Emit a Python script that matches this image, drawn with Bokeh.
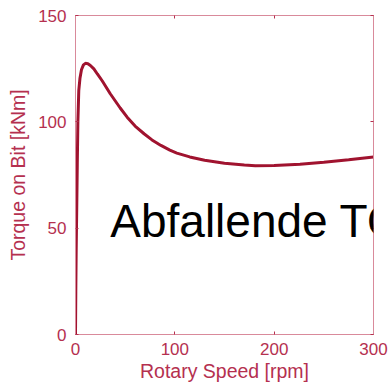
from bokeh.plotting import figure
from bokeh.models import Range1d, LinearAxis, Label, FixedTicker
from bokeh.embed import file_html
from bokeh.resources import INLINE

rpm = [0, 0.3, 0.7, 1.2, 1.8, 2.4, 3.3, 4.5, 6, 8, 10, 12.5, 15, 18.5, 22, 27,
       35, 45, 52, 60, 69, 77, 86, 95, 102, 115, 130, 150, 170, 181, 200, 226,
       250, 275, 300]
torque = [0, 20, 40, 58, 80, 100, 114.7, 120.5, 124.5, 126.8, 127.5, 127.3,
          126.5, 124.9, 122.5, 119.2, 113.2, 106.5, 102.2, 98, 94.4, 91.5, 88.9,
          86.7, 85.3, 83.5, 81.9, 80.5, 79.7, 79.4, 79.5, 80.0, 81.0, 82.2, 83.5]
x_ticks = [0, 100, 200, 300]
y_ticks = [0, 50, 100, 150]
annotation = "Abfallende TOB"

axis_col = "#b5304f"
line_col = "#a0132f"
frame_col = "#d98a9b"
font = "Liberation Sans"

p = figure(width=390, height=388, output_backend="svg", toolbar_location=None,
           x_range=Range1d(0, 300), y_range=Range1d(0, 150),
           min_border_left=75, min_border_right=17, min_border_top=15,
           min_border_bottom=54, x_axis_label="Rotary Speed [rpm]",
           y_axis_label="Torque on Bit [kNm]")
p.grid.visible = False
p.outline_line_color = frame_col
p.outline_line_width = 1
p.background_fill_color = "white"
p.border_fill_color = "white"

p.add_layout(LinearAxis(), "right")
p.add_layout(LinearAxis(), "above")

for ax in p.xaxis + p.yaxis:
    ax.axis_line_color = frame_col
    ax.major_tick_line_color = axis_col
    ax.major_tick_in = 3
    ax.major_tick_out = 0
    ax.minor_tick_line_color = None
    ax.major_label_text_color = axis_col
    ax.major_label_text_font = font
    ax.major_label_text_font_size = "17px"
    ax.axis_label_text_color = axis_col
    ax.axis_label_text_font = font
    ax.axis_label_text_font_size = "19.5px"
    ax.axis_label_text_font_style = "normal"

p.xaxis.ticker = FixedTicker(ticks=x_ticks)
p.yaxis.ticker = FixedTicker(ticks=y_ticks)
p.right[0].major_label_text_font_size = "0px"
p.above[0].major_label_text_font_size = "0px"
p.right[0].major_label_standoff = 0
p.above[0].major_label_standoff = 0
p.below[0].major_label_standoff = 8
p.left[0].major_label_standoff = 9
p.below[0].axis_label_standoff = 2
p.left[0].axis_label_standoff = 6

p.line(rpm, torque, line_color=line_col, line_width=3)

lab = Label(x=35, y=53.2, text=annotation, text_font=font,
            text_font_size="46px", text_color="black",
            text_baseline="alphabetic", text_align="left")
p.add_layout(lab)

open("out.html", "w").write(file_html(p, INLINE))
